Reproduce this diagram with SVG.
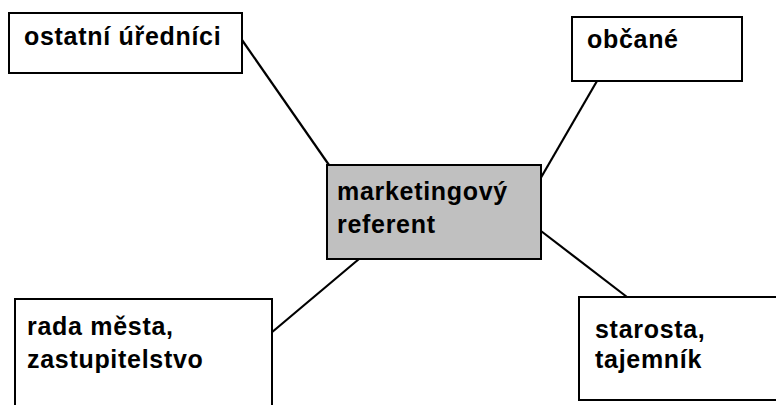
<svg xmlns="http://www.w3.org/2000/svg" width="776" height="405" viewBox="0 0 776 405">
<style>
.box{fill:#fff;stroke:#000;stroke-width:2}
.center{fill:#c0c0c0;stroke:#000;stroke-width:2}
text{font-family:"Liberation Sans",Arial,sans-serif;font-weight:bold;font-size:25px;letter-spacing:0.7px;fill:#000}
.conn line{stroke:#000;stroke-width:2.2}
</style>
<rect width="776" height="405" fill="#fff"/>
<g class="conn" id="connectors">
<line x1="242" y1="40" x2="329" y2="165"/>
<line x1="597" y1="81" x2="539" y2="181"/>
<line x1="359" y1="259" x2="271" y2="333"/>
<line x1="541" y1="231" x2="627" y2="297"/>
</g>
<g id="n1"><rect class="box" x="9" y="13" width="233" height="60"/><text x="24" y="45">ostatní úředníci</text></g>
<g id="n2"><rect class="box" x="572" y="17" width="170" height="64"/><text x="587" y="48">občané</text></g>
<g id="n3"><rect class="center" x="327" y="165" width="214" height="94"/><text x="337" y="200">marketingový</text><text x="337" y="233">referent</text></g>
<g id="n4"><rect class="box" x="15" y="299" width="257" height="120"/><text x="27" y="335">rada města,</text><text x="27" y="368">zastupitelstvo</text></g>
<g id="n5"><rect class="box" x="579" y="297" width="200" height="103"/><text x="595" y="338">starosta,</text><text x="595" y="368">tajemník</text></g>
</svg>
